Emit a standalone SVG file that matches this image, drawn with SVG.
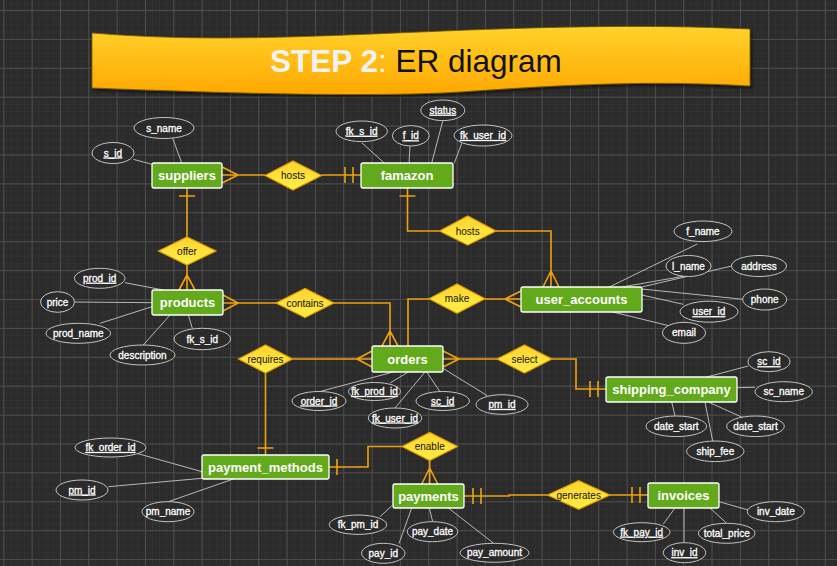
<svg xmlns="http://www.w3.org/2000/svg" width="837" height="566" viewBox="0 0 837 566">
<style>
.ent rect{fill:#62aa1b;stroke:#ffffff;stroke-width:1.3}
.ent text{font-family:"Liberation Sans",Arial,sans-serif;font-weight:bold;font-size:13px;fill:#ffffff;text-anchor:middle}
.rel polygon{fill:url(#dg);stroke:#e0a000;stroke-width:1.2}
.rel text{font-family:"Liberation Sans",Arial,sans-serif;font-size:10px;fill:#111111;text-anchor:middle}
.att ellipse{fill:#2b2b2b;stroke:#c4c4c4;stroke-width:1}
.att text{font-family:"Liberation Sans",Arial,sans-serif;font-size:10px;fill:#ffffff;stroke:#ffffff;stroke-width:0.3;text-anchor:middle}
.att text.k{text-decoration:underline}
#connectors path{fill:none;stroke:#f0a20c;stroke-width:1.6}
#attr-links path{fill:none;stroke:#b8b8b8;stroke-width:1}
</style>
<defs>
<pattern id="minor" width="7.083" height="7.225" patternUnits="userSpaceOnUse" x="3.3" y="10">
<path d="M0,0 V7.225 M0,0 H7.083" fill="none" stroke="#363636" stroke-width="1"/>
</pattern>
<pattern id="major" width="28.33" height="28.9" patternUnits="userSpaceOnUse" x="3.3" y="10">
<path d="M0.5,0 V28.9 M0,0.5 H28.33" fill="none" stroke="#4d4d4d" stroke-width="1"/>
</pattern>
<linearGradient id="tg" x1="0" y1="0" x2="0" y2="1">
<stop offset="0" stop-color="#ffd22c"/>
<stop offset="1" stop-color="#ffa800"/>
</linearGradient>
<linearGradient id="dg" x1="0" y1="0" x2="0" y2="1">
<stop offset="0" stop-color="#ffd22e"/>
<stop offset="1" stop-color="#fff048"/>
</linearGradient>
<filter id="sh" x="-5%" y="-20%" width="110%" height="140%">
<feDropShadow dx="1.5" dy="2" stdDeviation="1.5" flood-color="#000000" flood-opacity="0.6"/>
</filter>
</defs>
<rect width="837" height="566" fill="#2b2b2b"/>
<rect width="837" height="566" fill="url(#minor)"/>
<rect width="837" height="566" fill="url(#major)"/>

<g id="title">
<path d="M92,33 C200,42 300,37 420,32 C540,27 640,24 750,29 L750,86 C650,80 560,85 460,92 C360,98 200,92 92,88 Z" fill="url(#tg)" stroke="#7a5a00" stroke-width="0.8" filter="url(#sh)"/>
<text x="270" y="72" font-family="Liberation Sans,Arial,sans-serif" font-size="31.5px"><tspan font-weight="bold" fill="#f2f2f2">STEP 2</tspan><tspan fill="#f2f2f2">:</tspan><tspan fill="#111111"> ER diagram</tspan></text>
</g>

<g id="attr-links">
<path d="M172.7,138.3 L181.7,163 M133.3,159.3 L152,164.3"/>
<path d="M361.7,142.7 L384.3,163 M410,146 L409,163 M442.7,121 L431.7,163 M461.7,143.3 L454.3,163"/>
<path d="M697.3,244 L609.3,287 M686.7,275.7 L621.7,287 M731.7,266 L641.7,287 M743.3,299.3 L641.7,289 M683.3,304.3 L641.7,295 M670,326 L611.7,311.7"/>
<path d="M125,282.7 L163.3,290 M75,302 L152,302.7 M100,323.3 L152,306.7 M143.3,345 L170,315 M192.3,328.3 L188.3,315"/>
<path d="M320,391.5 L393.3,372 M390,383 L408.3,372 M395,408 L425,372 M440,391.7 L426.7,372 M487.3,395.7 L443,368.3"/>
<path d="M748.3,366 L706.7,377 M755,387.3 L737,387.7 M675,416 L671.7,402 M746.7,419.3 L708.3,402 M712.7,441 L705,402"/>
<path d="M136.7,453.3 L202,471.7 M108.3,486.7 L202,478.3 M168.3,501.7 L233.3,479"/>
<path d="M380,516.7 L392.7,505 M399,543.5 L411.7,508 M432.7,521.7 L429.3,508 M493.3,543 L448.3,508"/>
<path d="M748.3,510 L719,501.7 M663.3,524 L675,508 M684,542.7 L684,508 M726.7,523.3 L710,508"/>
</g>

<g id="connectors">
<path d="M222,175 H265 M238,175 L222,167 M238,175 L222,183"/>
<path d="M321.7,175 H361 M345,167 V183 M353,167 V183"/>
<path d="M187,188 V237 M179,196 H195"/>
<path d="M187,265 V290 M187,275 L179,290 M187,275 L195,290"/>
<path d="M407.5,188 V231 H439.5 M399.5,196 H415.5"/>
<path d="M496,231 H551 V287 M551,271 L543,287 M551,271 L559,287"/>
<path d="M408,346 V299 H429.5"/>
<path d="M485,299 H521 M505,299 L521,291 M505,299 L521,307"/>
<path d="M223,303 H276 M238,303 L223,295 M238,303 L223,311"/>
<path d="M334,303 H390 V346 M390,331 L382,346 M390,331 L398,346"/>
<path d="M372,359 H292.5 M357,359 L372,351 M357,359 L372,367"/>
<path d="M265.5,373 V455 M257.5,448 H273.5"/>
<path d="M443,359 H497 M459,359 L443,351 M459,359 L443,367"/>
<path d="M552,359 H576 V389 H606 M590,381 V397 M598,381 V397"/>
<path d="M329,467 H368 V446.5 H402 M337,459 V475"/>
<path d="M429.7,460.5 V484 M429.7,468 L421.7,484 M429.7,468 L437.7,484"/>
<path d="M464,496 H509 V495 H547.5 M473,488 V504 M481,488 V504"/>
<path d="M610,495 H648 M632,487 V503 M640,487 V503"/>
</g>

<g id="rel-hosts1" class="rel"><polygon points="265,175.5 293,161 321.5,175.5 293,190"/><text x="293" y="179">hosts</text></g>
<g id="rel-offer" class="rel"><polygon points="158.5,251 187,237 216,251 187,265"/><text x="187" y="254.5">offer</text></g>
<g id="rel-hosts2" class="rel"><polygon points="439.5,231 467.7,216 496,231 467.7,245"/><text x="467.7" y="234.5">hosts</text></g>
<g id="rel-make" class="rel"><polygon points="429,298.7 457,284 485,298.7 457,313.3"/><text x="457" y="302.2">make</text></g>
<g id="rel-contains" class="rel"><polygon points="276,303 305,288.5 334,303 305,317.5"/><text x="305" y="306.5">contains</text></g>
<g id="rel-requires" class="rel"><polygon points="238.5,359 265.5,345 292.5,359 265.5,373"/><text x="265.5" y="362.5">requires</text></g>
<g id="rel-select" class="rel"><polygon points="497,359 524.5,345 552,359 524.5,373"/><text x="524.5" y="362.5">select</text></g>
<g id="rel-enable" class="rel"><polygon points="402,446.5 429.7,432.5 457.5,446.5 429.7,460.5"/><text x="429.7" y="450">enable</text></g>
<g id="rel-generates" class="rel"><polygon points="547.5,495 578.7,480.7 610,495 578.7,509.3"/><text x="578.7" y="498.5">generates</text></g>

<g id="ent-suppliers" class="ent"><rect x="152" y="163" width="70" height="25" rx="2"/><text x="187" y="180">suppliers</text></g>
<g id="ent-famazon" class="ent"><rect x="361" y="163" width="92" height="25" rx="2"/><text x="407" y="180">famazon</text></g>
<g id="ent-user_accounts" class="ent"><rect x="521" y="287" width="121" height="25" rx="2"/><text x="581.5" y="304">user_accounts</text></g>
<g id="ent-products" class="ent"><rect x="152" y="290" width="71" height="25" rx="2"/><text x="187.5" y="307">products</text></g>
<g id="ent-orders" class="ent"><rect x="372" y="346" width="71" height="26" rx="2"/><text x="407.5" y="363.5">orders</text></g>
<g id="ent-shipping_company" class="ent"><rect x="606" y="377" width="131" height="25" rx="2"/><text x="671.5" y="394">shipping_company</text></g>
<g id="ent-payment_methods" class="ent"><rect x="202" y="455" width="127" height="24" rx="2"/><text x="265.5" y="471.5">payment_methods</text></g>
<g id="ent-payments" class="ent"><rect x="393" y="484" width="71" height="24" rx="2"/><text x="428.5" y="500.5">payments</text></g>
<g id="ent-invoices" class="ent"><rect x="648" y="483" width="71" height="25" rx="2"/><text x="683.5" y="500">invoices</text></g>

<g id="att-suppliers" class="att">
<ellipse cx="164" cy="128" rx="30" ry="10.5"/><text x="164" y="131.5">s_name</text>
<ellipse cx="113" cy="153" rx="21" ry="10.5"/><text class="k" x="113" y="156.5">s_id</text>
</g>
<g id="att-famazon" class="att">
<ellipse cx="361.7" cy="131.3" rx="25.7" ry="10.3"/><text class="k" x="361.7" y="134.8">fk_s_id</text>
<ellipse cx="410.8" cy="135.8" rx="18.5" ry="10.2"/><text class="k" x="410.8" y="139.3">f_id</text>
<ellipse cx="442.8" cy="110.3" rx="22" ry="10.3"/><text class="k" x="442.8" y="113.8">status</text>
<ellipse cx="483" cy="135.5" rx="29" ry="10.5"/><text class="k" x="483" y="139">fk_user_id</text>
</g>
<g id="att-user_accounts" class="att">
<ellipse cx="703" cy="231.3" rx="29" ry="10.3"/><text x="703" y="234.8">f_name</text>
<ellipse cx="688.5" cy="266" rx="22.5" ry="10.5"/><text x="688.5" y="269.5">l_name</text>
<ellipse cx="759" cy="266" rx="27.5" ry="10.5"/><text x="759" y="269.5">address</text>
<ellipse cx="764.7" cy="299.5" rx="22" ry="10.5"/><text x="764.7" y="303">phone</text>
<ellipse cx="709" cy="311.7" rx="29" ry="10.5"/><text class="k" x="709" y="315.2">user_id</text>
<ellipse cx="684" cy="332.8" rx="21.5" ry="10.5"/><text x="684" y="336.3">email</text>
</g>
<g id="att-products" class="att">
<ellipse cx="99.7" cy="278.3" rx="25.3" ry="10"/><text class="k" x="99.7" y="281.8">prod_id</text>
<ellipse cx="57.5" cy="302" rx="17" ry="10.3"/><text x="57.5" y="305.5">price</text>
<ellipse cx="78.3" cy="333.3" rx="32.3" ry="10"/><text x="78.3" y="336.8">prod_name</text>
<ellipse cx="142.5" cy="355" rx="32.5" ry="10"/><text x="142.5" y="358.5">description</text>
<ellipse cx="202.3" cy="339" rx="28.3" ry="10.7"/><text x="202.3" y="342.5">fk_s_id</text>
</g>
<g id="att-orders" class="att">
<ellipse cx="319" cy="401" rx="27" ry="9.5"/><text class="k" x="319" y="404.5">order_id</text>
<ellipse cx="374.5" cy="391.5" rx="26" ry="9"/><text class="k" x="374.5" y="395">fk_prod_id</text>
<ellipse cx="395" cy="418" rx="26.7" ry="10"/><text class="k" x="395" y="421.5">fk_user_id</text>
<ellipse cx="442.7" cy="401" rx="26.7" ry="9.5"/><text class="k" x="442.7" y="404.5">sc_id</text>
<ellipse cx="502" cy="404.5" rx="26" ry="9.8"/><text class="k" x="502" y="408">pm_id</text>
</g>
<g id="att-shipping_company" class="att">
<ellipse cx="769" cy="361.7" rx="21" ry="10"/><text class="k" x="769" y="365.2">sc_id</text>
<ellipse cx="783.7" cy="391.7" rx="28.7" ry="10"/><text x="783.7" y="395.2">sc_name</text>
<ellipse cx="676.3" cy="426.3" rx="30.3" ry="10.3"/><text x="676.3" y="429.8">date_start</text>
<ellipse cx="755.5" cy="426.3" rx="28.8" ry="10.3"/><text x="755.5" y="429.8">date_start</text>
<ellipse cx="715.3" cy="451.3" rx="28.7" ry="10.3"/><text x="715.3" y="454.8">ship_fee</text>
</g>
<g id="att-payment_methods" class="att">
<ellipse cx="110.5" cy="447.5" rx="35.5" ry="9.5"/><text class="k" x="110.5" y="451">fk_order_id</text>
<ellipse cx="82" cy="490" rx="26" ry="10"/><text class="k" x="82" y="493.5">pm_id</text>
<ellipse cx="168" cy="511.7" rx="26" ry="10"/><text x="168" y="515.2">pm_name</text>
</g>
<g id="att-payments" class="att">
<ellipse cx="358" cy="524.7" rx="28.7" ry="9.7"/><text x="358" y="528.2">fk_pm_id</text>
<ellipse cx="383.3" cy="553.3" rx="21.7" ry="10"/><text x="383.3" y="556.8">pay_id</text>
<ellipse cx="432.5" cy="531.7" rx="25.2" ry="10"/><text x="432.5" y="535.2">pay_date</text>
<ellipse cx="494.5" cy="552.8" rx="34.5" ry="9.5"/><text x="494.5" y="556.3">pay_amount</text>
</g>
<g id="att-invoices" class="att">
<ellipse cx="775.8" cy="511.7" rx="28.5" ry="10"/><text x="775.8" y="515.2">inv_date</text>
<ellipse cx="641.7" cy="532.2" rx="28.3" ry="9.5"/><text class="k" x="641.7" y="535.7">fk_pay_id</text>
<ellipse cx="726.7" cy="533.3" rx="28.3" ry="10"/><text x="726.7" y="536.8">total_price</text>
<ellipse cx="684.5" cy="552.7" rx="21.2" ry="10"/><text class="k" x="684.5" y="556.2">inv_id</text>
</g>
</svg>
